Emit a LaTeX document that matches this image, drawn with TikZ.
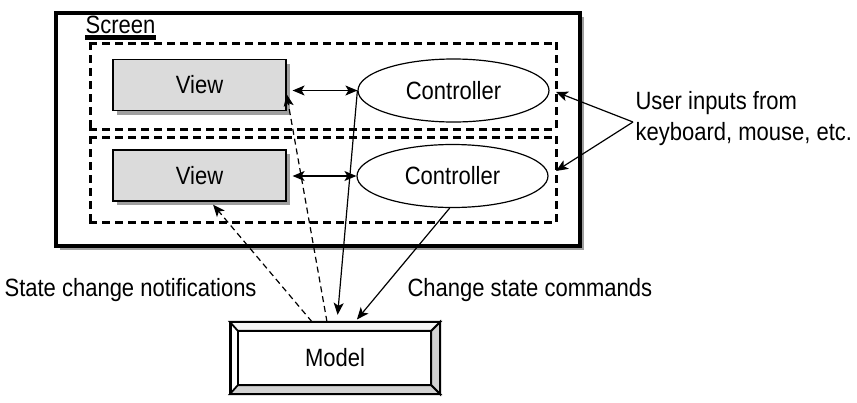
\documentclass[tikz,border=0pt]{standalone}
\usepackage{fontspec}
\setmainfont{Liberation Sans}[FakeStretch=0.88]
\usepackage{tikz}
\usetikzlibrary{shapes.geometric}
\usetikzlibrary{arrows.meta}
\usetikzlibrary{shadows}
\usetikzlibrary{calc}

\begin{document}
\begin{tikzpicture}[x=0.5pt, y=-0.5pt, semithick,
    every node/.style={font=\fontsize{12.5}{15.5}\selectfont},
    viewbox/.style={draw, fill=gray!28, minimum width=86.5pt, minimum height=25.5pt, inner sep=0pt,
        drop shadow={shadow xshift=2pt, shadow yshift=-2pt, fill=gray!75, opacity=1}},
    ctrl/.style={draw, ellipse, minimum width=95.5pt, minimum height=31.5pt, inner sep=0pt},
    tip/.style={-{Stealth[length=6pt, width=5pt, inset=1.5pt]}},
    dtip/.style={{Stealth[length=6pt, width=5pt, inset=1.5pt]}-{Stealth[length=6pt, width=5pt, inset=1.5pt]}},
    dsh/.style={dash pattern=on 3pt off 2pt}]
    \useasboundingbox (0,0) rectangle (857,402);

    % Draw the screen
    \fill[gray!75] (60,17) rectangle (584,250);
    \draw[line width=1.8pt, fill=white] (56,13) rectangle (580,246);
    \node[anchor=base west, inner sep=0pt] (scr) at (85,33) {Screen};
    \fill ([yshift=-1.2pt]scr.base west) rectangle ([yshift=-3.4pt]scr.base east);

    % Dashed group boxes, one dash at a time
    \foreach \y in {43,129,137,222}
        \foreach \x in {89,102,...,545}
            \fill (\x,\y-1.5) rectangle (\x+8,\y+1.5);
    \foreach \x in {90,556} {
        \foreach \y in {42,55,...,120}
            \fill (\x-1.5,\y) rectangle (\x+1.5,\y+8);
        \foreach \y in {136,149,...,214}
            \fill (\x-1.5,\y) rectangle (\x+1.5,\y+8);
    }

    % Views and controllers
    \node[viewbox] (view1) at (199.5,85) {View};
    \node[viewbox] (view2) at (199.5,175.5) {View};
    \node[ctrl] (ctrl1) at (453.5,90.5) {Controller};
    \node[ctrl] (ctrl2) at (452.5,176) {Controller};
    \coordinate (in1) at (556,92);
    \coordinate (in2) at (556,171);

    % User inputs
    \node[align=left, anchor=west, inner sep=0pt] (usr) at (635,119) {User inputs from\\keyboard, mouse, etc.};

    % Draw the model with its bevel
    \node[draw, line width=1.2pt, minimum width=104pt, minimum height=35pt, inner sep=0pt] (model) at (335,358) {Model};
    \coordinate (mi1) at ($(model.north west)+(8,9)$);
    \coordinate (mi2) at ($(model.north east)+(-9,9)$);
    \coordinate (mi3) at ($(model.south east)+(-9,-9)$);
    \coordinate (mi4) at ($(model.south west)+(8,-9)$);
    \filldraw[fill=gray!35, line width=0.9pt] (model.north east) -- (mi2) -- (mi3) -- (model.south east) -- cycle;
    \filldraw[fill=gray!35, line width=0.9pt] (model.south west) -- (mi4) -- (mi3) -- (model.south east) -- cycle;
    \filldraw[fill=gray!8, line width=0.9pt] (model.north west) -- (mi1) -- (mi2) -- (model.north east) -- cycle;
    \draw[line width=0.9pt] (mi1) rectangle (mi3);
    \draw[line width=1.2pt] (model.north west) rectangle (model.south east);

    % Labels
    \node[anchor=base west, inner sep=0pt] (notif) at (4,296) {State change notifications};
    \node[anchor=base west, inner sep=0pt] (cmds) at (407,296) {Change state commands};

    % Connectors
    \draw[dtip, shorten <=3pt] (ctrl1.west -| view1.east) -- (ctrl1.west);
    \draw[dtip, shorten <=3pt] (ctrl2.west -| view2.east) -- (ctrl2.west);
    \draw[tip, dsh] ([xshift=-4pt]model.north) -- (view1.-6);
    \draw[tip, dsh, shorten >=2pt] ([xshift=-11.5pt]model.north) -- ([xshift=5.5pt]view2.south);
    \draw[tip, shorten >=3.5pt] (ctrl1.west) -- ([xshift=1pt]model.north);
    \draw[tip, shorten >=1.5pt] (ctrl2.265) -- ([xshift=10pt]model.north);
    \draw[tip] ([shift={(-2,3)}]usr.west) -- (in1);
    \draw[tip] ([shift={(-2,3)}]usr.west) -- (in2);
\end{tikzpicture}
\end{document}
